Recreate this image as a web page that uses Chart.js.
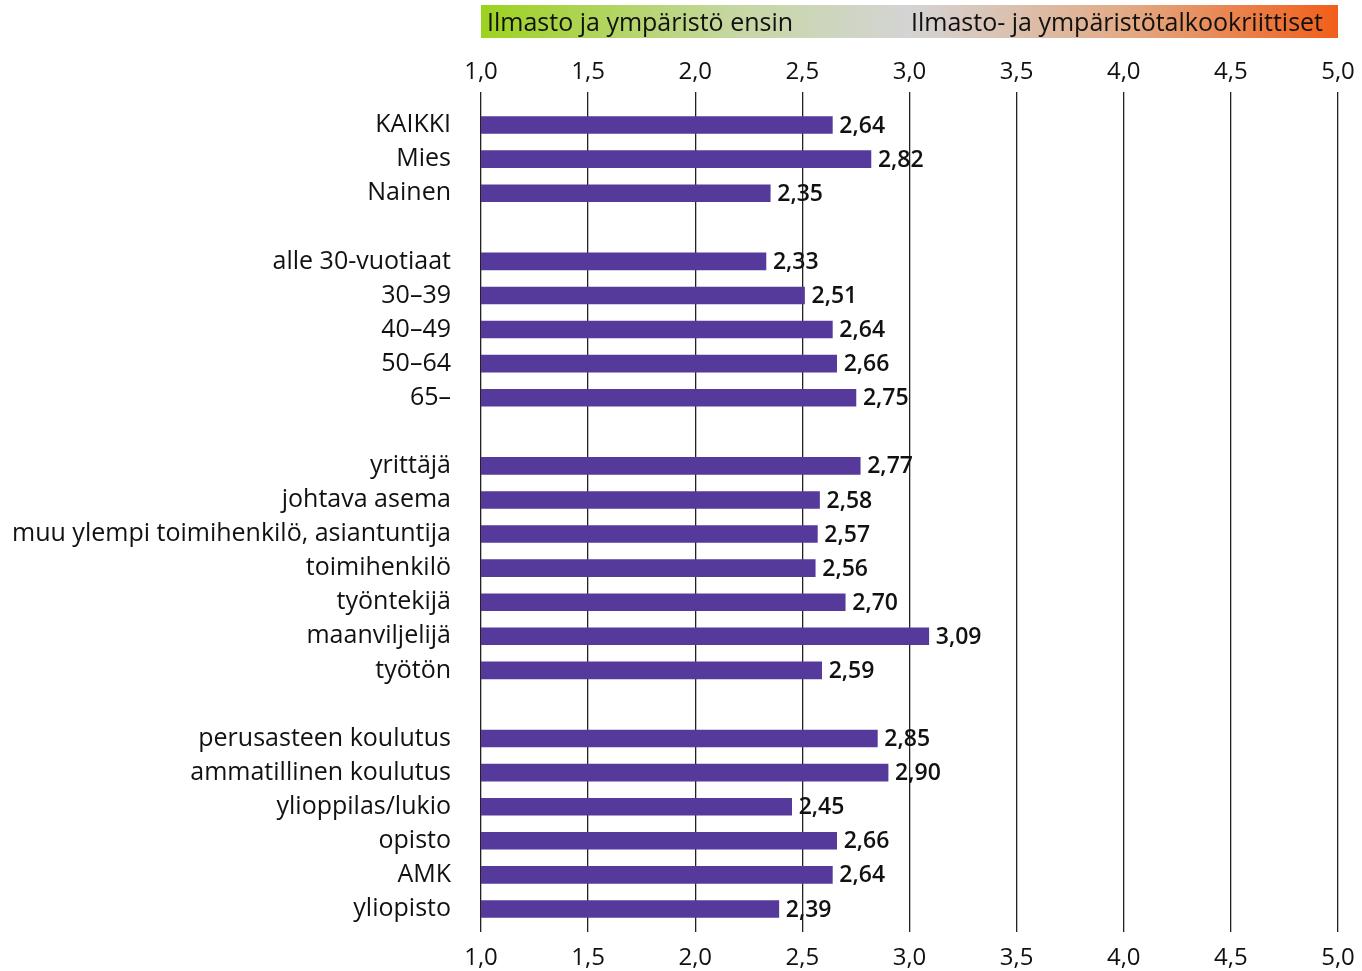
<!DOCTYPE html>
<html>
<head>
<meta charset="utf-8">
<script src="https://cdn.jsdelivr.net/npm/chart.js@4.4.1/dist/chart.umd.min.js"></script>
<style>
  html, body { margin: 0; padding: 0; background: #fff; }
  #wrap { position: relative; width: 1362px; height: 971px; }
  #legendbar {
    position: absolute; left: 481px; top: 5px; width: 857px; height: 33px;
    background: linear-gradient(to right, #9dd21f 0%, #c6d7a3 30%, #d4d4d4 50%, #e2ab86 75%, #f15e1a 100%);
    font-family: "Open Sans", sans-serif; font-size: 25px; color: #111;
    line-height: 33px;
  }
  #legendbar .l { position: absolute; left: 6px; top: 0; }
  #legendbar .r { position: absolute; right: 15px; top: 0; }
</style>
</head>
<body>
<div id="wrap">
  <canvas id="c" width="1362" height="971"></canvas>
  <div id="legendbar"><span class="l">Ilmasto ja ympäristö ensin</span><span class="r">Ilmasto- ja ympäristötalkookriittiset</span></div>
</div>
<script>
const categories = [
  "KAIKKI", "Mies", "Nainen", "",
  "alle 30-vuotiaat", "30–39", "40–49", "50–64", "65–", "",
  "yrittäjä", "johtava asema", "muu ylempi toimihenkilö, asiantuntija", "toimihenkilö", "työntekijä", "maanviljelijä", "työtön", "",
  "perusasteen koulutus", "ammatillinen koulutus", "ylioppilas/lukio", "opisto", "AMK", "yliopisto"
];
const values = [
  2.64, 2.82, 2.35, null,
  2.33, 2.51, 2.64, 2.66, 2.75, null,
  2.77, 2.58, 2.57, 2.56, 2.70, 3.09, 2.59, null,
  2.85, 2.90, 2.45, 2.66, 2.64, 2.39
];
const xTicks = [1.0, 1.5, 2.0, 2.5, 3.0, 3.5, 4.0, 4.5, 5.0];

const fmt = v => v.toFixed(2).replace('.', ',');
const fmtTick = v => v.toFixed(1).replace('.', ',');
const FONT = '"Open Sans", sans-serif';

const valueLabels = {
  id: 'valueLabels',
  afterDatasetsDraw(chart) {
    const ctx = chart.ctx;
    const meta = chart.getDatasetMeta(0);
    ctx.save();
    ctx.font = '600 23px ' + FONT;
    ctx.fillStyle = '#111';
    ctx.textAlign = 'left';
    ctx.textBaseline = 'middle';
    meta.data.forEach((bar, i) => {
      const v = values[i];
      if (v === null) return;
      ctx.fillText(fmt(v), bar.x + 7, bar.y + 1);
    });
    ctx.restore();
  }
};

new Chart(document.getElementById('c'), {
  type: 'bar',
  data: {
    labels: categories,
    datasets: [{
      data: values,
      backgroundColor: '#553a9c',
      barThickness: 17,
      borderWidth: 0
    }]
  },
  options: {
    indexAxis: 'y',
    responsive: false,
    animation: false,
    layout: { padding: { left: 0, right: 24, top: 0, bottom: 0 } },
    plugins: { legend: { display: false }, tooltip: { enabled: false } },
    scales: {
      y: {
        type: 'category',
        grid: { display: false },
        border: { display: false },
        ticks: { color: '#111', font: { family: FONT, size: 25 }, padding: 22, autoSkip: false },
        afterFit(scale) { scale.width = 481; scale.paddingTop = 0; scale.paddingBottom = 0; }
      },
      x: {
        type: 'linear', position: 'bottom', min: 1, max: 5,
        afterBuildTicks(scale) { scale.ticks = xTicks.map(v => ({ value: v })); },
        grid: { display: true, color: '#222', lineWidth: 1.3, tickLength: 6, drawTicks: true },
        border: { display: false },
        ticks: { color: '#111', font: { family: FONT, size: 24 }, padding: 12, maxRotation: 0, callback: v => fmtTick(v) },
        afterFit(scale) { scale.height = 45; scale.paddingLeft = 0; scale.paddingRight = 0; }
      },
      x2: {
        type: 'linear', position: 'top', min: 1, max: 5,
        afterBuildTicks(scale) { scale.ticks = xTicks.map(v => ({ value: v })); },
        grid: { display: true, drawOnChartArea: false, color: '#222', lineWidth: 1.3, tickLength: 16 },
        border: { display: false },
        ticks: { color: '#111', font: { family: FONT, size: 24 }, padding: 5, maxRotation: 0, callback: v => fmtTick(v) },
        afterFit(scale) { scale.height = 108; scale.paddingLeft = 0; scale.paddingRight = 0; }
      }
    }
  },
  plugins: [valueLabels]
});
</script>
</body>
</html>
